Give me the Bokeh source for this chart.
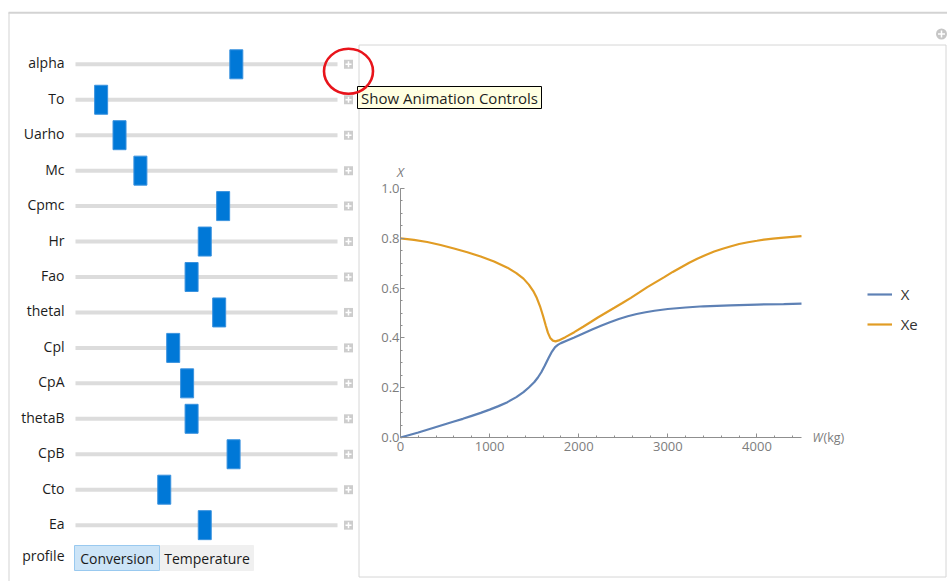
from bokeh.plotting import figure
from bokeh.models import (Range1d, LinearAxis, FixedTicker, PrintfTickFormatter,
                          Label, Legend, LegendItem)
from bokeh.core.properties import value
from bokeh.embed import file_html
from bokeh.resources import INLINE

# ---------------- data ----------------
PARAM_NAMES = ["alpha", "To", "Uarho", "Mc", "Cpmc", "Hr", "Fao", "thetal",
               "Cpl", "CpA", "thetaB", "CpB", "Cto", "Ea"]
# slider thumb positions as a fraction of the slider travel (0 = left end)
SLIDER_POS = [0.621, 0.077, 0.151, 0.235, 0.568, 0.494, 0.441, 0.552,
              0.367, 0.423, 0.441, 0.610, 0.331, 0.494]
PROFILE_LABEL = "profile"
PROFILE_OPTIONS = ["Conversion", "Temperature"]
PROFILE_SELECTED = "Conversion"
TOOLTIP_TEXT = "Show Animation Controls"

W_X = [0, 100, 200, 300, 400, 500, 600, 700, 800, 900, 1000, 1100, 1200, 1300,
       1380, 1440, 1500, 1540, 1580, 1620, 1660, 1700, 1735, 1770, 1800, 1870,
       1950, 2050, 2150, 2250, 2350, 2450, 2550, 2650, 2750, 2850, 3000, 3200,
       3400, 3700, 4000, 4300, 4500]
X_VALS = [0.000, 0.010, 0.020, 0.031, 0.042, 0.053, 0.064, 0.075, 0.087, 0.099,
          0.112, 0.126, 0.142, 0.162, 0.182, 0.201, 0.222, 0.240, 0.262, 0.289,
          0.318, 0.345, 0.363, 0.373, 0.379, 0.390, 0.402, 0.418, 0.434, 0.449,
          0.463, 0.476, 0.487, 0.496, 0.503, 0.509, 0.516, 0.522, 0.527, 0.531,
          0.534, 0.536, 0.538]

W_XE = [0, 150, 300, 450, 600, 750, 900, 1050, 1200, 1300, 1380, 1440, 1490,
        1530, 1565, 1600, 1630, 1655, 1680, 1710, 1740, 1775, 1850, 1950, 2050,
        2135, 2210, 2300, 2400, 2490, 2585, 2680, 2770, 2865, 2960, 3055, 3150,
        3240, 3330, 3425, 3520, 3615, 3710, 3800, 3900, 4000, 4080, 4180, 4270,
        4400, 4500]
XE_VALS = [0.800, 0.794, 0.785, 0.773, 0.759, 0.744, 0.727, 0.707, 0.682, 0.660,
           0.638, 0.614, 0.588, 0.560, 0.528, 0.488, 0.450, 0.420, 0.400, 0.389,
           0.386, 0.390, 0.403, 0.423, 0.445, 0.464, 0.481, 0.500, 0.521, 0.540,
           0.561, 0.583, 0.604, 0.624, 0.644, 0.665, 0.684, 0.702, 0.718, 0.733,
           0.747, 0.758, 0.768, 0.777, 0.784, 0.790, 0.795, 0.799, 0.802, 0.806,
           0.809]

SERIES_NAMES = ["X", "Xe"]
X_TICKS = [0, 1000, 2000, 3000, 4000]
Y_TICKS = [0.0, 0.2, 0.4, 0.6, 0.8, 1.0]
W_MAX = 4500
Y_MAX = 1.0

# ---------------- layout (page pixels) ----------------
WIDTH, HEIGHT = 947, 581
LEFT_PX, RIGHT_PX = 0, WIDTH
TOP_PX, BOTTOM_PX = 0, HEIGHT
FONT = "Open Sans"


def lin_range(p_a, v_a, p_b, v_b, lo_px, hi_px):
    k = (v_b - v_a) / (p_b - p_a)
    return Range1d(start=v_a + (lo_px - p_a) * k, end=v_a + (hi_px - p_a) * k)


p = figure(width=WIDTH, height=HEIGHT, title=None,
           x_range=Range1d(LEFT_PX, RIGHT_PX), y_range=Range1d(BOTTOM_PX, TOP_PX),
           x_axis_type=None, y_axis_type=None, toolbar_location=None,
           output_backend="svg", min_border=0, outline_line_color=None,
           background_fill_color="white", border_fill_color="white")

p.extra_x_ranges = {
    "sl": lin_range(81.5, 0, 330, 1, LEFT_PX, RIGHT_PX),
    "W": lin_range(400, 0, 801, W_MAX, LEFT_PX, RIGHT_PX),
}
ROW0, ROW_STEP = 63.8, 35.45
p.extra_y_ranges = {
    "rows": lin_range(ROW0, 0, ROW0 + ROW_STEP, 1, BOTTOM_PX, TOP_PX),
    "labels": lin_range(ROW0 - 1.5, 0, ROW0 - 1.5 + ROW_STEP, 1, BOTTOM_PX, TOP_PX),
    "X": lin_range(437, 0, 188, 1, BOTTOM_PX, TOP_PX),
}

rows = list(range(len(PARAM_NAMES)))
PROFILE_ROW = len(PARAM_NAMES) - 0.1

# panel around the plot
p.quad(left=358.5, right=945.5, top=44.5, bottom=576.5,
       fill_color="white", line_color="#d6d6d6", line_width=1)
# outer frame
p.segment(x0=[8.5, 8], y0=[12, 12.25], x1=[8.5, RIGHT_PX], y1=[BOTTOM_PX, 12.25],
          line_color="#d3d3d3", line_width=[1, 2])

# slider tracks
TRACK_L, TRACK_R = 75, 337
p.segment(x0=[TRACK_L] * len(rows), x1=[TRACK_R] * len(rows), y0=rows, y1=rows,
          y_range_name="rows", line_color="#dcdcdc", line_width=4)
# animation-control icons
ICON_X = 348
p.scatter(x=[ICON_X] * len(rows), y=rows, y_range_name="rows", marker="square",
          size=9, fill_color="#cdcdcd", line_color=None)
p.scatter(x=[ICON_X] * len(rows), y=rows, y_range_name="rows", marker="cross",
          size=6, line_color="white", line_width=1.5)
# slider thumbs
p.rect(x=SLIDER_POS, y=rows, x_range_name="sl", y_range_name="rows",
       width=13, height=29, width_units="screen", height_units="screen",
       fill_color="#0078d7", line_color="#3a92de", line_width=1)

# slider name labels via an axis
lab_ax = LinearAxis(y_range_name="labels", fixed_location=TRACK_L,
                    ticker=FixedTicker(ticks=rows + [PROFILE_ROW]),
                    major_label_overrides={**{i: n for i, n in enumerate(PARAM_NAMES)},
                                           PROFILE_ROW: PROFILE_LABEL},
                    axis_line_color=None, major_tick_line_color=None,
                    minor_tick_line_color=None, major_tick_out=0, major_tick_in=0,
                    minor_tick_out=0, minor_tick_in=0, major_label_standoff=11,
                    major_label_text_font=FONT, major_label_text_font_size="14px",
                    major_label_text_color="#1c1c1c")
p.add_layout(lab_ax, "left")

# profile setter bar
BTN_WIDTHS = [85, 93]
btn_l, btn_r, x0 = [], [], 74
for w in BTN_WIDTHS:
    btn_l.append(x0)
    btn_r.append(x0 + w)
    x0 += w + 1
sel = [o == PROFILE_SELECTED for o in PROFILE_OPTIONS]
p.quad(left=btn_l, right=btn_r, top=545, bottom=570,
       fill_color=["#cce4f7" if s else "#f0f0f0" for s in sel],
       line_color=["#99c9ef" if s else "#f0f0f0" for s in sel], line_width=1)
p.text(x=[(a + b) / 2 for a, b in zip(btn_l, btn_r)], y=[558] * 2, text=PROFILE_OPTIONS,
       text_font=value(FONT), text_font_size="14px", text_color="#1a1a1a",
       text_align="center", text_baseline="middle")

# top-right panel icon
p.scatter(x=[941], y=[33.5], marker="circle", size=11,
          fill_color="#c6c6c6", line_color=None)
p.scatter(x=[941], y=[33.5], marker="cross", size=7,
          line_color="white", line_width=1.5)

# ---------------- chart ----------------
CLR = ["#5e81b5", "#e19c24"]
r1 = p.line(W_X, X_VALS, x_range_name="W", y_range_name="X",
            line_color=CLR[0], line_width=2.2)
r2 = p.line(W_XE, XE_VALS, x_range_name="W", y_range_name="X",
            line_color=CLR[1], line_width=2.2)

AX_CLR, LBL_CLR = "#8f8f8f", "#7d7d7d"
x_minor = list(range(0, W_MAX + 1, 200))
y_minor = [i * 0.05 for i in range(21)]
xax = LinearAxis(x_range_name="W", y_range_name="X", fixed_location=0,
                 bounds=(0, W_MAX), ticker=FixedTicker(ticks=X_TICKS, minor_ticks=x_minor))
yax = LinearAxis(x_range_name="W", y_range_name="X", fixed_location=0,
                 bounds=(0, Y_MAX), ticker=FixedTicker(ticks=Y_TICKS, minor_ticks=y_minor),
                 formatter=PrintfTickFormatter(format="%.1f"))
for ax in (xax, yax):
    ax.axis_line_color = AX_CLR
    ax.major_tick_line_color = AX_CLR
    ax.minor_tick_line_color = AX_CLR
    ax.major_tick_in, ax.major_tick_out = 4, 0
    ax.minor_tick_in, ax.minor_tick_out = 2, 0
    ax.major_label_text_font = FONT
    ax.major_label_text_font_size = "13px"
    ax.major_label_text_color = LBL_CLR
xax.major_label_standoff = 4
yax.major_label_standoff = 1
p.add_layout(xax, "below")
p.add_layout(yax, "left")

p.add_layout(Label(x=0, y=Y_MAX, x_range_name="W", y_range_name="X", text="X",
                   y_offset=17, text_align="center", text_baseline="middle",
                   text_font=FONT, text_font_style="italic", text_font_size="13px",
                   text_color=LBL_CLR))
p.add_layout(Label(x=W_MAX, y=0, x_range_name="W", y_range_name="X", text="W",
                   x_offset=11, text_align="left", text_baseline="middle",
                   text_font=FONT, text_font_style="italic", text_font_size="12px",
                   text_color=LBL_CLR))
p.add_layout(Label(x=W_MAX, y=0, x_range_name="W", y_range_name="X", text="(kg)",
                   x_offset=22, text_align="left", text_baseline="middle",
                   text_font=FONT, text_font_size="12.5px", text_color=LBL_CLR))

legend = Legend(items=[LegendItem(label=SERIES_NAMES[0], renderers=[r1]),
                       LegendItem(label=SERIES_NAMES[1], renderers=[r2])],
                location=(866.7, 241.7), glyph_width=25, glyph_height=30,
                label_height=30, spacing=0, padding=0, margin=0, label_standoff=9,
                border_line_color=None, background_fill_alpha=0,
                label_text_font=FONT, label_text_font_size="15px",
                label_text_color="#333333")
p.add_layout(legend)

# tooltip and red highlight circle
p.quad(left=357, right=541, top=86, bottom=108, fill_color="#ffffe1",
       line_color="#000000", line_width=1)
p.text(x=[360.5], y=[97.5], text=[TOOLTIP_TEXT], text_font=value(FONT),
       text_font_size="15px", text_color="#1e1e1e", text_align="left",
       text_baseline="middle")
p.ellipse(x=[348], y=[70.8], width=49, height=45, width_units="screen",
          height_units="screen", fill_color=None, line_color="#e8141b", line_width=2.6)

open("out.html", "w").write(file_html(p, INLINE))
